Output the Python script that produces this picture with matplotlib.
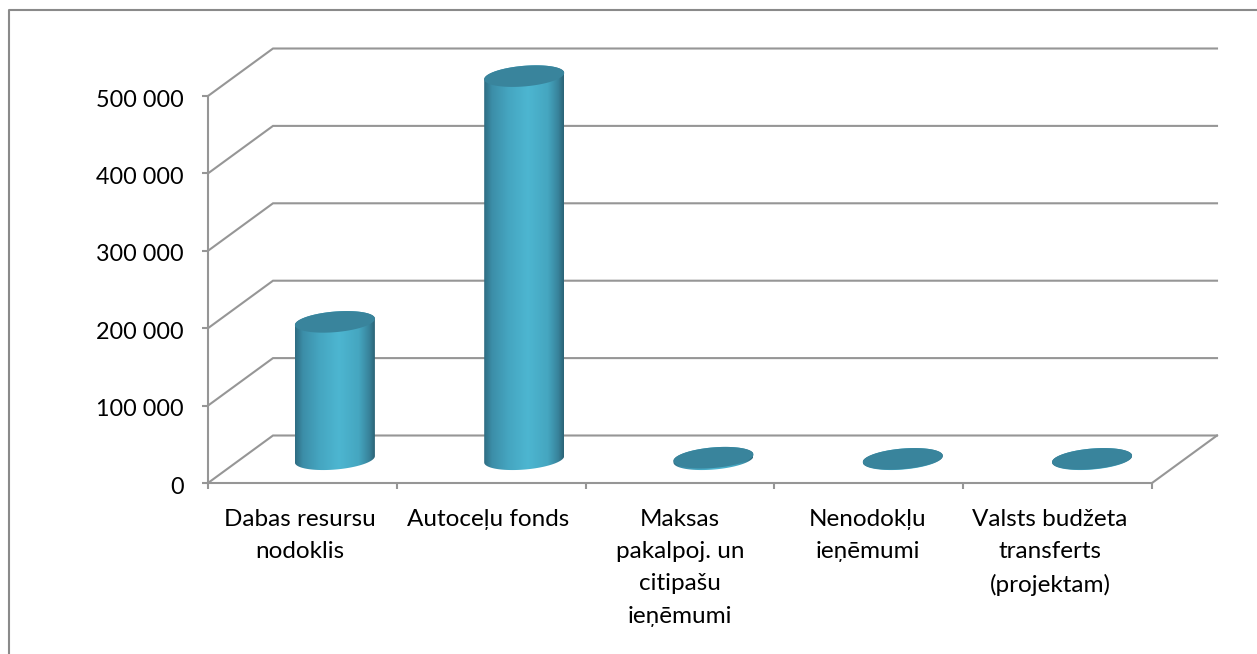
#!/usr/bin/env python3
import numpy as np
import matplotlib
matplotlib.use('Agg')
import matplotlib.pyplot as plt
from matplotlib.colors import LinearSegmentedColormap
from matplotlib.lines import Line2D
from matplotlib.patches import Polygon
from matplotlib.transforms import ScaledTranslation

categories = ['Dabas resursu\nnodoklis', 'Autoceļu fonds',
              'Maksas\npakalpoj. un\ncitipašu\nieņēmumi',
              'Nenodokļu\nieņēmumi',
              'Valsts budžeta\ntransferts\n(projektam)']
values = [177500, 495000, 2000, 500, 500]
y_ticks = [0, 100000, 200000, 300000, 400000, 500000]
y_labels = ['0', '100 000', '200 000', '300 000', '400 000', '500 000']
label_shift = [-0.015, -0.015, 0, -0.005, -0.04]  # labels are not quite centred in the original

plt.rcParams['font.family'] = ['Lato', 'DejaVu Sans']

W, H = 1257, 654
GREY = '#969696'
fig = plt.figure(figsize=(W / 100, H / 100), dpi=100)
ax = fig.add_axes([208 / W, (H - 483) / H, 944 / W, 387 / H])

# chart frame runs off the picture to the right and bottom
frame_x = np.array([9, 9, W + 5]) / W
frame_y = 1 - np.array([H + 5, 10, 10]) / H
fig.add_artist(Line2D(frame_x, frame_y, color='#8a8a8a', lw=1.5))

# depth of the fake 3D box, in data units
dx = 65 / (944 / 5)
dy = 47.5 / (387 / 500000)

for v in y_ticks:
    ax.plot([0, dx, 5 + dx], [v, v + dy, v + dy], color=GREY, lw=1.5,
            clip_on=False, zorder=1, solid_joinstyle='miter')
ax.plot([5, 5 + dx], [0, dy], color=GREY, lw=1.5, clip_on=False, zorder=1)

cmap = LinearSegmentedColormap.from_list('cyl', [
    (0, '#2e6c82'), (0.1, '#3c8ea8'), (0.3, '#45a5c0'), (0.55, '#4db6d1'),
    (0.8, '#45a6c0'), (0.93, '#38839b'), (1, '#2b6376')])
grad = np.linspace(0, 1, 256).reshape(1, -1)

rx = 40 / (944 / 5)
ry = 10.8 / (387 / 500000)
phi = 0.3


def ring(cx, cy, t):
    return np.column_stack([cx + rx * np.cos(t), cy + ry * np.sin(t + phi)])


for i, v in enumerate(values):
    cx = i * 1.0026 + 0.5 + dx / 2
    base = dy / 2
    low = ring(cx, base, np.linspace(np.pi, 2 * np.pi, 80))
    up = ring(cx, base + v, np.linspace(0, np.pi, 80))
    body = Polygon(np.vstack([low, up]), transform=ax.transData, fc='none', ec='none')
    ax.add_patch(body)
    im = ax.imshow(grad, cmap=cmap, aspect='auto', zorder=3,
                   extent=[cx - rx, cx + rx, base - ry * 1.2, base + v + ry * 1.2])
    im.set_clip_box(fig.bbox)  # the tall bar pokes out above the axes
    im.set_clip_path(body)
    ax.add_patch(Polygon(ring(cx, base + v, np.linspace(0, 2 * np.pi, 160)),
                         fc='#39849c', ec='none', zorder=4, clip_on=False))

ax.set_xlim(0, 5)
ax.set_ylim(0, 500000)
ax.patch.set_visible(False)
for s in ['top', 'right']:
    ax.spines[s].set_visible(False)
for s in ['left', 'bottom']:
    ax.spines[s].set_color(GREY)
    ax.spines[s].set_linewidth(1.5)
ax.set_yticks(y_ticks, y_labels, fontsize=16.8, color='black')
ax.set_xticks(range(6), [''] * 6)
ax.tick_params(axis='both', length=4.5, width=1.5, color=GREY)
ax.tick_params(axis='y', pad=13)
for lab in ax.get_yticklabels():
    lab.set_transform(lab.get_transform() + ScaledTranslation(0, -1.5 / 72, fig.dpi_scale_trans))

for i, name in enumerate(categories):
    ax.annotate(name, (i + 0.5 + label_shift[i], 0), xytext=(0, -18.7),
                textcoords='offset points', ha='center', va='top',
                fontsize=17.5, linespacing=1.66, annotation_clip=False)

fig.savefig('out.png', dpi=100)
